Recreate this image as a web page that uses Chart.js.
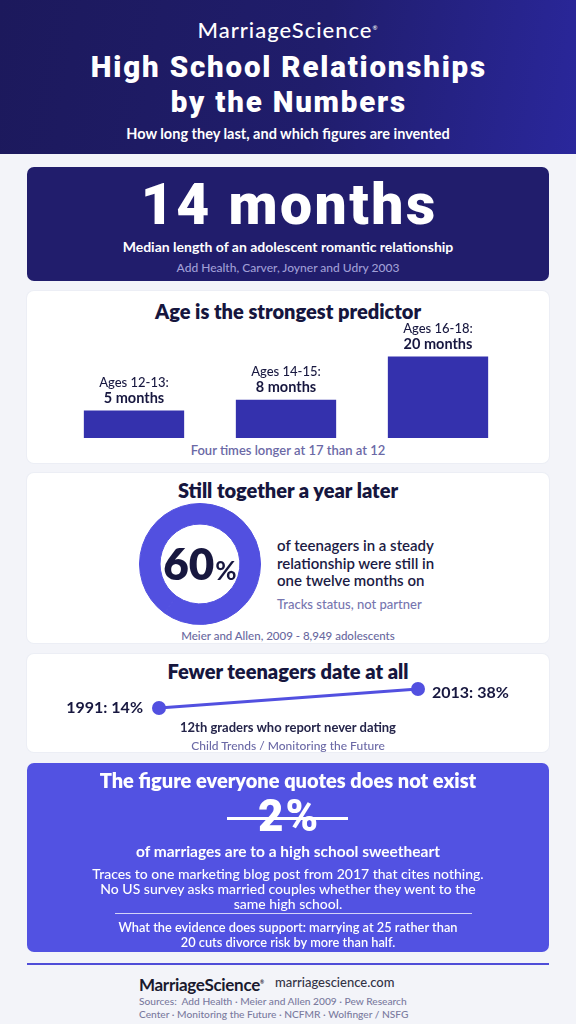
<!DOCTYPE html>
<html>
<head>
<meta charset="utf-8">
<title>High School Relationships by the Numbers</title>
<script src="https://cdn.jsdelivr.net/npm/chart.js@4"></script>
<style>
  html, body { margin: 0; padding: 0; }
  body { width: 576px; height: 1024px; position: relative; overflow: hidden; background: #f3f4f9; font-family: Lato, "Noto Sans", sans-serif; color: #17173f; }
  .abs { position: absolute; }
  .t { position: absolute; left: 0; width: 576px; text-align: center; white-space: nowrap; }
  .header { left: 0; top: 0; width: 576px; height: 154px; background: linear-gradient(100deg, #1c195c 0%, #201d6c 55%, #2a279c 100%); }
  .card { left: 27px; width: 522px; border-radius: 7px; background: #fff; box-shadow: 0 0 0 1px #eceef5; }
  .dark { background: #211d6c; box-shadow: none; }
  .blue { background: #5252e2; box-shadow: none; }
  .w { color: #fff; }
  .muted { color: #6b69a6; }
  .heavy { font-family: Roboto, Lato, sans-serif; font-weight: 900; box-sizing: border-box; }
  h2 { margin: 0; font-size: 20px; font-weight: 800; color: #16163e; }
  canvas { position: absolute; }
</style>
</head>
<body>
<div class="abs header"></div>
<div class="t w" style="top:16px;line-height:24px;font-size:22px;font-weight:500;letter-spacing:1px">MarriageScience<sup style="font-size:6px">®</sup></div>
<div class="t w heavy" style="top:49.5px;line-height:35px;font-size:29.5px;letter-spacing:1.8px;padding-left:1.8px">High School Relationships<br>by the Numbers</div>
<div class="t w" style="top:124px;line-height:20px;font-size:14.5px;font-weight:700">How long they last, and which figures are invented</div>

<div class="abs card dark" style="top:167px;height:114px"></div>
<div class="t w heavy" style="top:178px;line-height:54px;font-size:57px;letter-spacing:2.5px;padding-left:2.5px">14 months</div>
<div class="t w" style="top:238px;line-height:18px;font-size:14px;font-weight:700">Median length of an adolescent romantic relationship</div>
<div class="t" style="top:259px;line-height:18px;font-size:12px;font-weight:500;color:#a09fd6">Add Health, Carver, Joyner and Udry 2003</div>

<div class="abs card" style="top:291px;height:172px"></div>
<h2 class="t" style="top:298px;line-height:26px">Age is the strongest predictor</h2>
<canvas id="ageChart" style="left:58px;top:318px;width:456px;height:122px"></canvas>
<div class="t muted" style="top:441px;line-height:18px;font-size:13px;font-weight:600">Four times longer at 17 than at 12</div>

<div class="abs card" style="top:473px;height:170px"></div>
<h2 class="t" style="top:477px;line-height:26px">Still together a year later</h2>
<canvas id="togetherChart" style="left:139px;top:503px;width:122px;height:122px"></canvas>
<div class="abs" style="left:277px;top:537px;line-height:17.5px;font-size:15px;font-weight:600;color:#1b1b44;white-space:nowrap">of teenagers in a steady<br>relationship were still in<br>one twelve months on</div>
<div class="abs" style="left:277px;top:595px;line-height:18px;font-size:13px;font-weight:500;color:#7776b0;white-space:nowrap">Tracks status, not partner</div>
<div class="t" style="top:627px;line-height:18px;font-size:11.5px;font-weight:500;color:#6a69a0">Meier and Allen, 2009 - 8,949 adolescents</div>

<div class="abs card" style="top:654px;height:98px"></div>
<h2 class="t" style="top:658px;line-height:26px">Fewer teenagers date at all</h2>
<canvas id="datingChart" style="left:60px;top:674px;width:470px;height:50px"></canvas>
<div class="t" style="top:718px;line-height:18px;font-size:13px;font-weight:700;color:#25254a">12th graders who report never dating</div>
<div class="t muted" style="top:737px;line-height:18px;font-size:12px;font-weight:500">Child Trends / Monitoring the Future</div>

<div class="abs card blue" style="top:763px;height:189px"></div>
<div class="t w" style="top:769px;line-height:22px;font-size:20px;font-weight:800">The figure everyone quotes does not exist</div>
<div class="t w heavy" style="top:797px;line-height:38px;font-size:44px;letter-spacing:2px;padding-left:2px">2%</div>
<div class="abs" style="left:227px;top:817px;width:121px;height:2.5px;background:#fff"></div>
<div class="t w" style="top:841px;line-height:20px;font-size:15.5px;font-weight:700">of marriages are to a high school sweetheart</div>
<div class="t w" style="top:865.5px;line-height:15px;font-size:14px;font-weight:500">Traces to one marketing blog post from 2017 that cites nothing.<br>No US survey asks married couples whether they went to the<br>same high school.</div>
<div class="abs" style="left:115px;top:913px;width:357px;height:1px;background:rgba(255,255,255,.75)"></div>
<div class="t w" style="top:919.5px;line-height:15px;font-size:12.8px;font-weight:600">What the evidence does support: marrying at 25 rather than<br>20 cuts divorce risk by more than half.</div>

<div class="abs" style="left:27px;top:963px;width:522px;height:2px;background:#4f4dd8"></div>
<div class="abs" style="left:139px;top:971px;line-height:22px;font-size:17px;font-weight:700;color:#1a1a2e;letter-spacing:-0.3px;white-space:nowrap">MarriageScience<sup style="font-size:5px">®</sup></div>
<div class="abs" style="left:275px;top:973px;line-height:18px;font-size:13px;font-weight:500;color:#333346;white-space:nowrap">marriagescience.com</div>
<div class="abs" style="left:139px;top:994.5px;line-height:13px;font-size:10.2px;font-weight:500;color:#7a7a9e;white-space:nowrap">Sources:&nbsp; Add Health · Meier and Allen 2009 · Pew Research<br>Center · Monitoring the Future · NCFMR · Wolfinger / NSFG</div>

<script>
(function() {
  'use strict';

  // median relationship length by age group (months)
  var ageGroups = ['Ages 12-13:', 'Ages 14-15:', 'Ages 16-18:'];
  var ageMonths = [5, 8, 20];
  var ageFloor = -2.6;

  // still in a steady relationship a year later (%)
  var togetherLabels = ['Still together', 'Not'];
  var togetherValues = [60, 40];

  // 12th graders who report never dating (%)
  var datingYears = [1991, 2013];
  var datingShares = [14, 38];

  var ink = '#17173f';
  var barColor = '#3431ad';
  var accent = '#5250e0';
  var font = 'Lato, "Noto Sans", sans-serif';

  Chart.defaults.font.family = font;
  Chart.defaults.animation = false;
  Chart.defaults.responsive = false;
  Chart.defaults.plugins.legend.display = false;
  Chart.defaults.plugins.tooltip.enabled = false;

  function sizeCanvas(id) {
    var el = document.getElementById(id);
    el.width = parseFloat(el.style.width);
    el.height = parseFloat(el.style.height);
    return el;
  }

  var barLabels = {
    id: 'barLabels',
    afterDatasetsDraw: function(chart) {
      var ctx = chart.ctx;
      chart.getDatasetMeta(0).data.forEach(function(bar, i) {
        ctx.save();
        ctx.fillStyle = ink;
        ctx.textAlign = 'center';
        ctx.textBaseline = 'middle';
        ctx.font = '500 13px ' + font;
        ctx.fillText(ageGroups[i], bar.x, bar.y - 28);
        ctx.font = '700 14.5px ' + font;
        ctx.fillText(ageMonths[i] + ' months', bar.x, bar.y - 12);
        ctx.restore();
      });
    }
  };

  new Chart(sizeCanvas('ageChart'), {
    type: 'bar',
    data: {
      labels: ageGroups,
      datasets: [{ data: ageMonths, base: ageFloor, backgroundColor: barColor, borderWidth: 0, barPercentage: 0.66, categoryPercentage: 1 }]
    },
    options: {
      layout: { padding: { top: 0, bottom: 2, left: 0, right: 0 } },
      scales: {
        x: { display: false },
        y: { display: false, min: ageFloor, max: 30.7 }
      }
    },
    plugins: [barLabels]
  });

  var centerText = {
    id: 'centerText',
    afterDraw: function(chart) {
      var ctx = chart.ctx;
      var arc = chart.getDatasetMeta(0).data[0];
      var big = String(togetherValues[0]);
      ctx.save();
      ctx.fillStyle = ink;
      ctx.textBaseline = 'alphabetic';
      ctx.font = '800 44px ' + font;
      var w1 = ctx.measureText(big).width;
      ctx.font = '700 26px ' + font;
      var w2 = ctx.measureText('%').width;
      var x0 = arc.x - (w1 + w2 + 1) / 2;
      var base = arc.y + 16;
      ctx.font = '800 44px ' + font;
      ctx.fillText(big, x0, base);
      ctx.font = '700 26px ' + font;
      ctx.fillText('%', x0 + w1 + 1, base);
      ctx.restore();
    }
  };

  new Chart(sizeCanvas('togetherChart'), {
    type: 'doughnut',
    data: {
      labels: togetherLabels,
      datasets: [{ data: togetherValues, backgroundColor: [accent, accent], borderColor: accent, borderWidth: 1 }]
    },
    options: { cutout: '66%', layout: { padding: 0 } },
    plugins: [centerText]
  });

  var endLabels = {
    id: 'endLabels',
    afterDatasetsDraw: function(chart) {
      var ctx = chart.ctx;
      var pts = chart.getDatasetMeta(0).data;
      ctx.save();
      ctx.fillStyle = ink;
      ctx.textBaseline = 'middle';
      ctx.font = '700 16px ' + font;
      ctx.textAlign = 'right';
      ctx.fillText(datingYears[0] + ': ' + datingShares[0] + '%', pts[0].x - 16, pts[0].y);
      ctx.textAlign = 'left';
      var last = pts.length - 1;
      ctx.fillText(datingYears[last] + ': ' + datingShares[last] + '%', pts[last].x + 14, pts[last].y + 4);
      ctx.restore();
    }
  };

  new Chart(sizeCanvas('datingChart'), {
    type: 'line',
    data: {
      datasets: [{
        data: datingYears.map(function(y, i) { return { x: y, y: datingShares[i] }; }),
        borderColor: accent,
        borderWidth: 3,
        pointRadius: 7,
        pointBackgroundColor: accent,
        pointBorderWidth: 0,
        clip: false
      }]
    },
    options: {
      layout: { padding: { left: 99, right: 112, top: 15, bottom: 16 } },
      scales: {
        x: { type: 'linear', display: false, min: datingYears[0], max: datingYears[1] },
        y: { display: false, min: datingShares[0], max: datingShares[1] }
      }
    },
    plugins: [endLabels]
  });
})();
</script>
</body>
</html>
